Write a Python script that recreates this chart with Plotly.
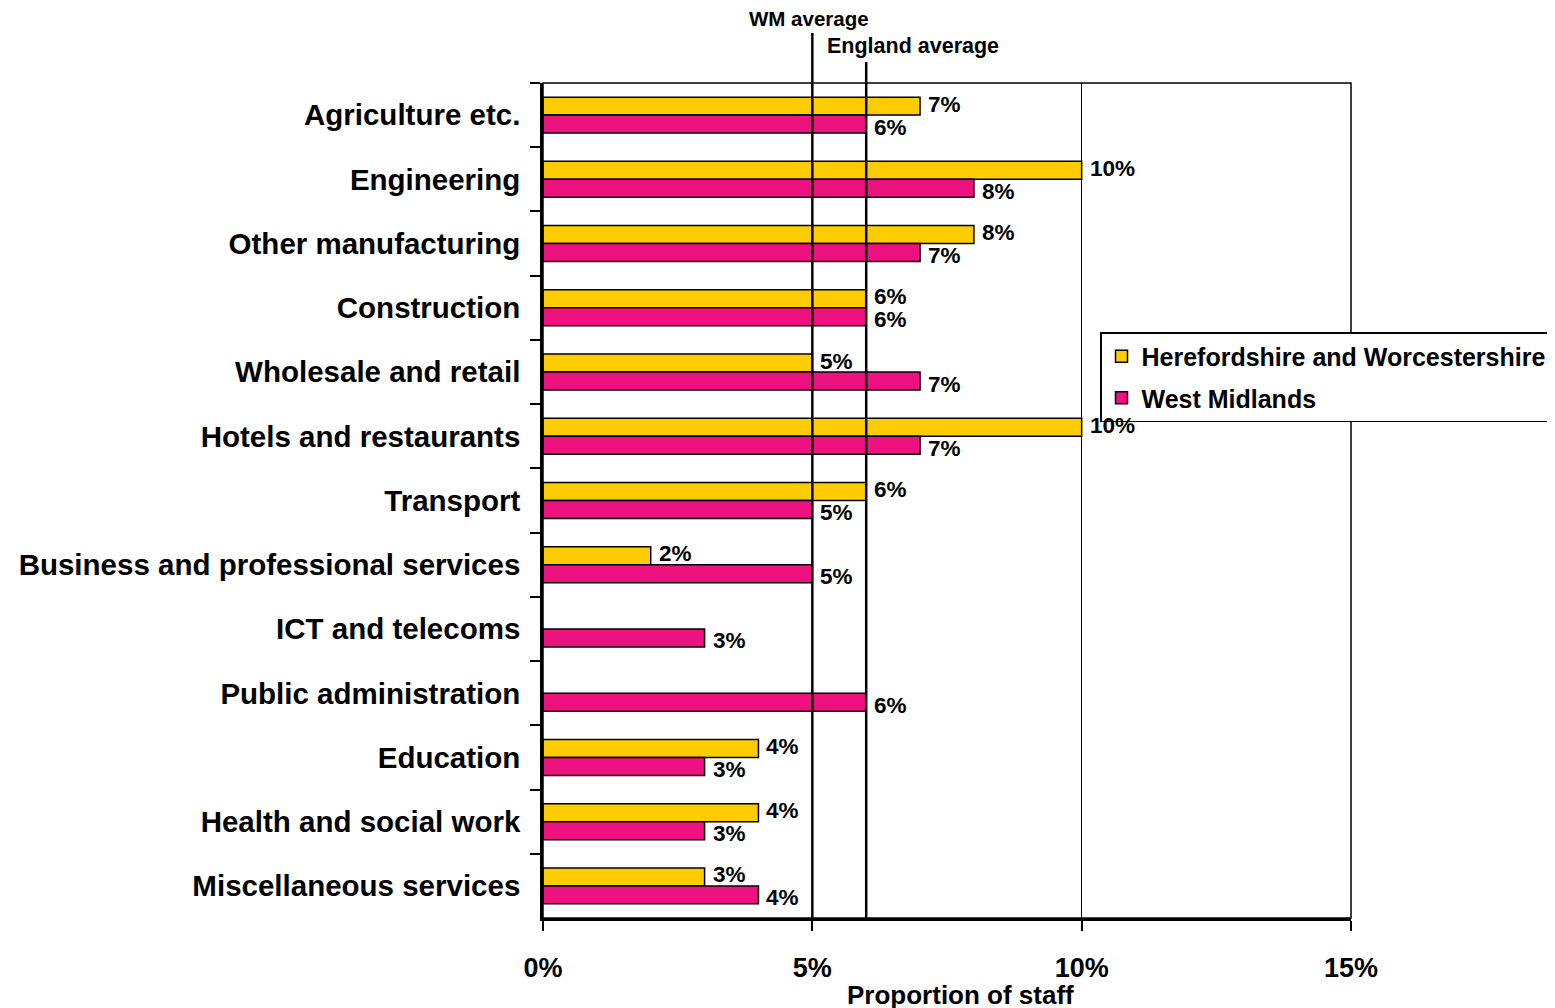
import plotly.graph_objects as go

categories = [
    "Agriculture etc.", "Engineering", "Other manufacturing", "Construction",
    "Wholesale and retail", "Hotels and restaurants", "Transport",
    "Business and professional services", "ICT and telecoms",
    "Public administration", "Education", "Health and social work",
    "Miscellaneous services",
]
herefordshire_worcestershire = [7, 10, 8, 6, 5, 10, 6, 2, None, None, 4, 4, 3]
west_midlands = [6, 8, 7, 6, 7, 7, 5, 5, 3, 6, 3, 3, 4]
wm_average = 5
england_average = 6
x_tickvals = [0, 5, 10, 15]
x_ticktext = ["0%", "5%", "10%", "15%"]

FONT = "Arial, Liberation Sans, sans-serif"
YELLOW = "#FFCC00"
PINK = "#EE1180"
OFF = 8  # page body margin offset

fig = go.Figure()
fig.add_trace(go.Bar(
    y=categories, x=herefordshire_worcestershire, orientation="h",
    name="<b>Herefordshire and Worcestershire</b>", legendgroup="a",
    marker=dict(color=YELLOW, line=dict(color="black", width=1.5)),
))
fig.add_trace(go.Bar(
    y=categories, x=west_midlands, orientation="h",
    name="<b>West Midlands</b>", legendgroup="b",
    marker=dict(color=PINK, line=dict(color="black", width=1.5)),
))

L, R, T, B = 543 - OFF, 1351 - OFF, 83 - OFF, 918 - OFF
H = B - T


def py(screen_y):
    return (B - (screen_y - OFF)) / H


def px(screen_x):
    return ((screen_x - OFF) - L) / (R - L)


shapes = [
    dict(type="rect", xref="paper", yref="paper", x0=0, x1=1, y0=0, y1=1,
         line=dict(color="black", width=1.5), layer="above"),
    dict(type="line", xref="x", yref="paper", x0=wm_average, x1=wm_average,
         y0=0, y1=py(33), line=dict(color="black", width=2.5), layer="above"),
    dict(type="line", xref="x", yref="paper", x0=england_average, x1=england_average,
         y0=0, y1=py(62), line=dict(color="black", width=2.5), layer="above"),
]

annotations = [
    dict(text="<b>WM average</b>", xref="paper", yref="paper", x=px(809),
         y=py(19), xanchor="center", yanchor="middle",
         showarrow=False, font=dict(family=FONT, size=20.5, color="black")),
    dict(text="<b>England average</b>", xref="paper", yref="paper", x=px(913),
         y=py(46), xanchor="center", yanchor="middle",
         showarrow=False, font=dict(family=FONT, size=21.5, color="black")),
    dict(text="<b>Proportion of staff</b>", xref="paper", yref="paper",
         x=px(960), y=py(995), xanchor="center", yanchor="middle",
         showarrow=False, font=dict(family=FONT, size=26, color="black")),
]

# value labels, placed at the end of each bar, nudged apart vertically
for vals, shift in ((herefordshire_worcestershire, 11), (west_midlands, -12)):
    for cat, v in zip(categories, vals):
        if v is None:
            continue
        annotations.append(dict(
            text="<b>%d%%</b>" % v, xref="x", yref="y", x=v, y=cat,
            xanchor="left", yanchor="middle", xshift=6, yshift=shift,
            showarrow=False, font=dict(family=FONT, size=22.5, color="black"),
        ))

fig.update_layout(
    width=1555, height=1008,
    margin=dict(l=L, r=1555 - R, t=T, b=1008 - B, autoexpand=False),
    paper_bgcolor="white", plot_bgcolor="white",
    barmode="group", bargap=0.44, bargroupgap=0,
    font=dict(family=FONT, color="black"),
    shapes=shapes, annotations=annotations,
    legend=dict(
        x=px(1100), y=py(332), xanchor="left", yanchor="top",
        bgcolor="white", bordercolor="black", borderwidth=1.5,
        font=dict(family=FONT, size=25, color="black"),
        traceorder="grouped", tracegroupgap=6, itemwidth=30,
    ),
    xaxis=dict(
        range=[0, 15], tickvals=x_tickvals,
        ticktext=["<b>%s</b>" % t for t in x_ticktext],
        showgrid=True, gridcolor="black", gridwidth=1, zeroline=False,
        showline=True, linecolor="black", linewidth=2.5,
        ticks="outside", ticklen=10, tickwidth=1.5, tickcolor="black",
        tickfont=dict(family=FONT, size=27, color="black"),
        ticklabelstandoff=14,
    ),
    yaxis=dict(
        type="category", autorange="reversed",
        showgrid=False, zeroline=False,
        showline=True, linecolor="black", linewidth=2.5,
        ticks="outside", ticklen=10, tickwidth=1.5, tickcolor="black",
        tickson="boundaries",
        tickfont=dict(family=FONT, size=29.5, color="black"),
        ticklabelstandoff=14,
        tickprefix="<b>", ticksuffix="</b>",
    ),
)

fig.write_html("out.html")
